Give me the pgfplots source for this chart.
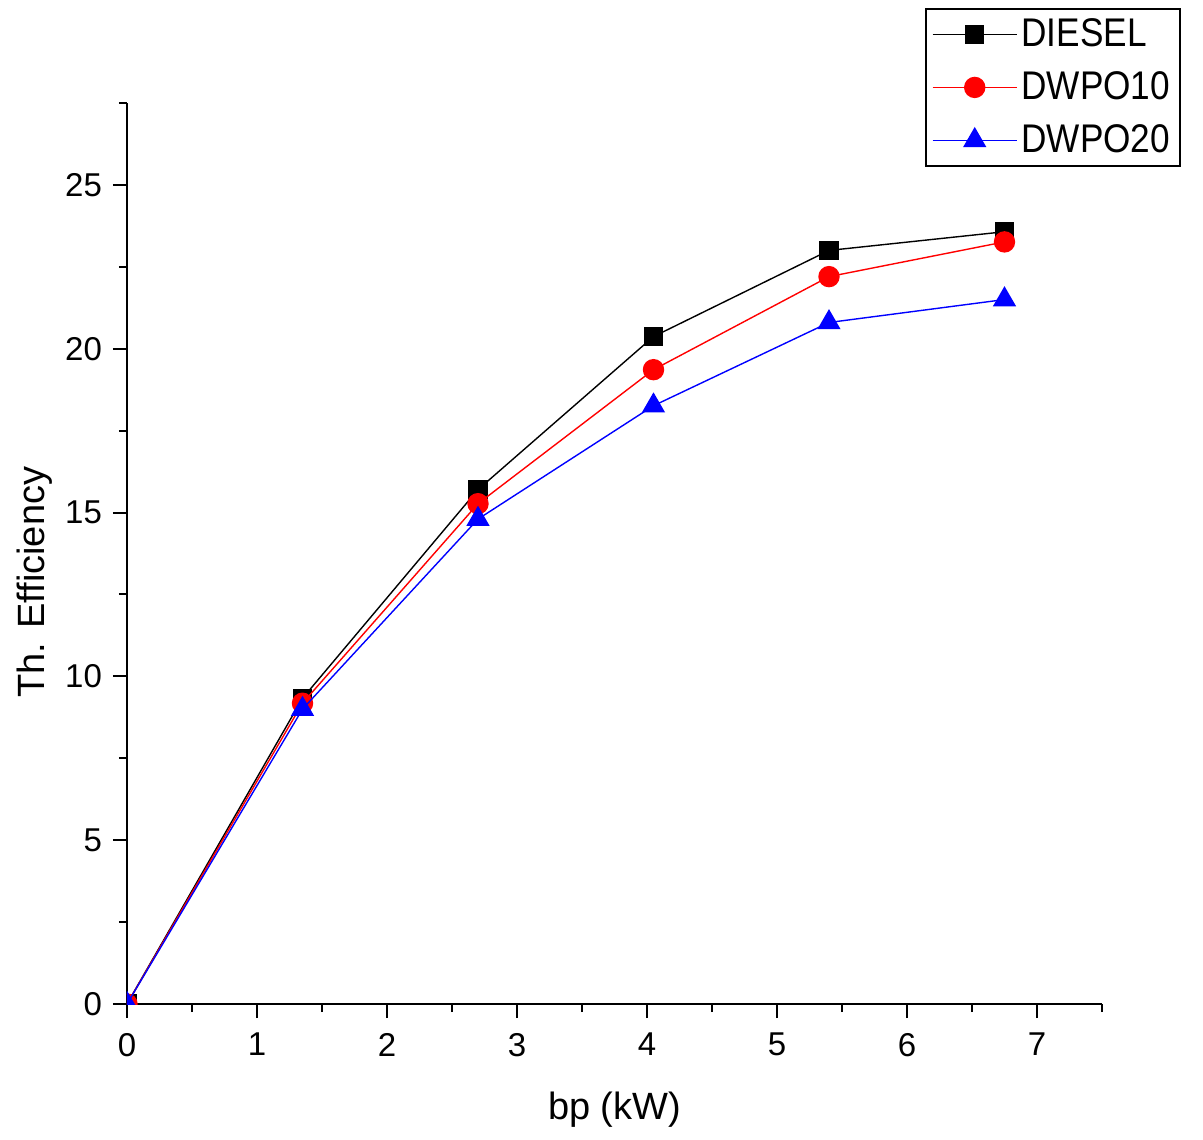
\documentclass[border=0pt]{standalone}
\usepackage{pgfplots}
\pgfplotsset{compat=1.18}
\usepackage{fontspec}
\setmainfont{Liberation Sans}
\newfontfamily\legfont[FakeStretch=0.88]{Liberation Sans}
\begin{document}
\begin{tikzpicture}[x=1pt,y=1pt]
\useasboundingbox (-63.5,-67.5) rectangle (538,502);
\begin{axis}[
  at={(0,0)}, anchor=origin,
  scale only axis, width=487.5pt, height=450.5pt,
  xmin=0, xmax=7.5, ymin=0, ymax=27.5,
  axis lines*=left,
  axis line style={line width=1pt},
  xtick={0,1,...,7}, ytick={0,5,...,25},
  minor xtick={0.5,1.5,...,7.5}, minor ytick={2.5,7.5,...,27.5},
  tick align=outside,
  major tick length=7pt, minor tick length=4pt,
  tick style={line width=1pt, black},
  tick label style={font=\fontsize{16.5}{18}\selectfont},
  xticklabel style={yshift=-4pt},
  yticklabel style={xshift=-2pt},
  /pgf/number format/assume math mode=true,
  xlabel={bp (kW)}, ylabel={Th. Efficiency},
  label style={font=\fontsize{19}{21}\selectfont},
  xlabel style={at={(axis description cs:0.5,0)}, anchor=center, yshift=-53pt},
  ylabel style={at={(axis description cs:0,0.468)}, anchor=center, rotate=0, yshift=46pt},
  clip marker paths=true,
  legend style={at={(0.8185,1.1054)}, anchor=north west, draw=black, line width=1pt,
    font=\legfont\fontsize{20}{24}\selectfont, inner xsep=3pt, inner ysep=3pt,
    row sep=7pt},
  legend cell align=left,
  legend image code/.code={
    \draw[#1, mark=none] (2pt,0pt) -- (44pt,0pt);
    \draw[#1, only marks] plot coordinates {(23pt,0pt)};
  },
]
\addplot[black, line width=0.7pt, mark=square*, mark size=4.5pt, mark options={solid}] coordinates {
(0,0) (1.35,9.33) (2.7,15.7) (4.05,20.37) (5.4,23.0) (6.75,23.57)};
\addlegendentry{DIESEL}
\addplot[red, line width=0.7pt, mark=*, mark size=5pt] coordinates {
(0,0) (1.35,9.18) (2.7,15.27) (4.05,19.36) (5.4,22.2) (6.75,23.26)};
\addlegendentry{DWPO10}
\addplot[blue, line width=0.7pt, mark=triangle*, mark size=6pt] coordinates {
(0,0) (1.35,9.0) (2.7,14.8) (4.05,18.26) (5.4,20.8) (6.75,21.5)};
\addlegendentry{DWPO20}
\end{axis}
\end{tikzpicture}
\end{document}
